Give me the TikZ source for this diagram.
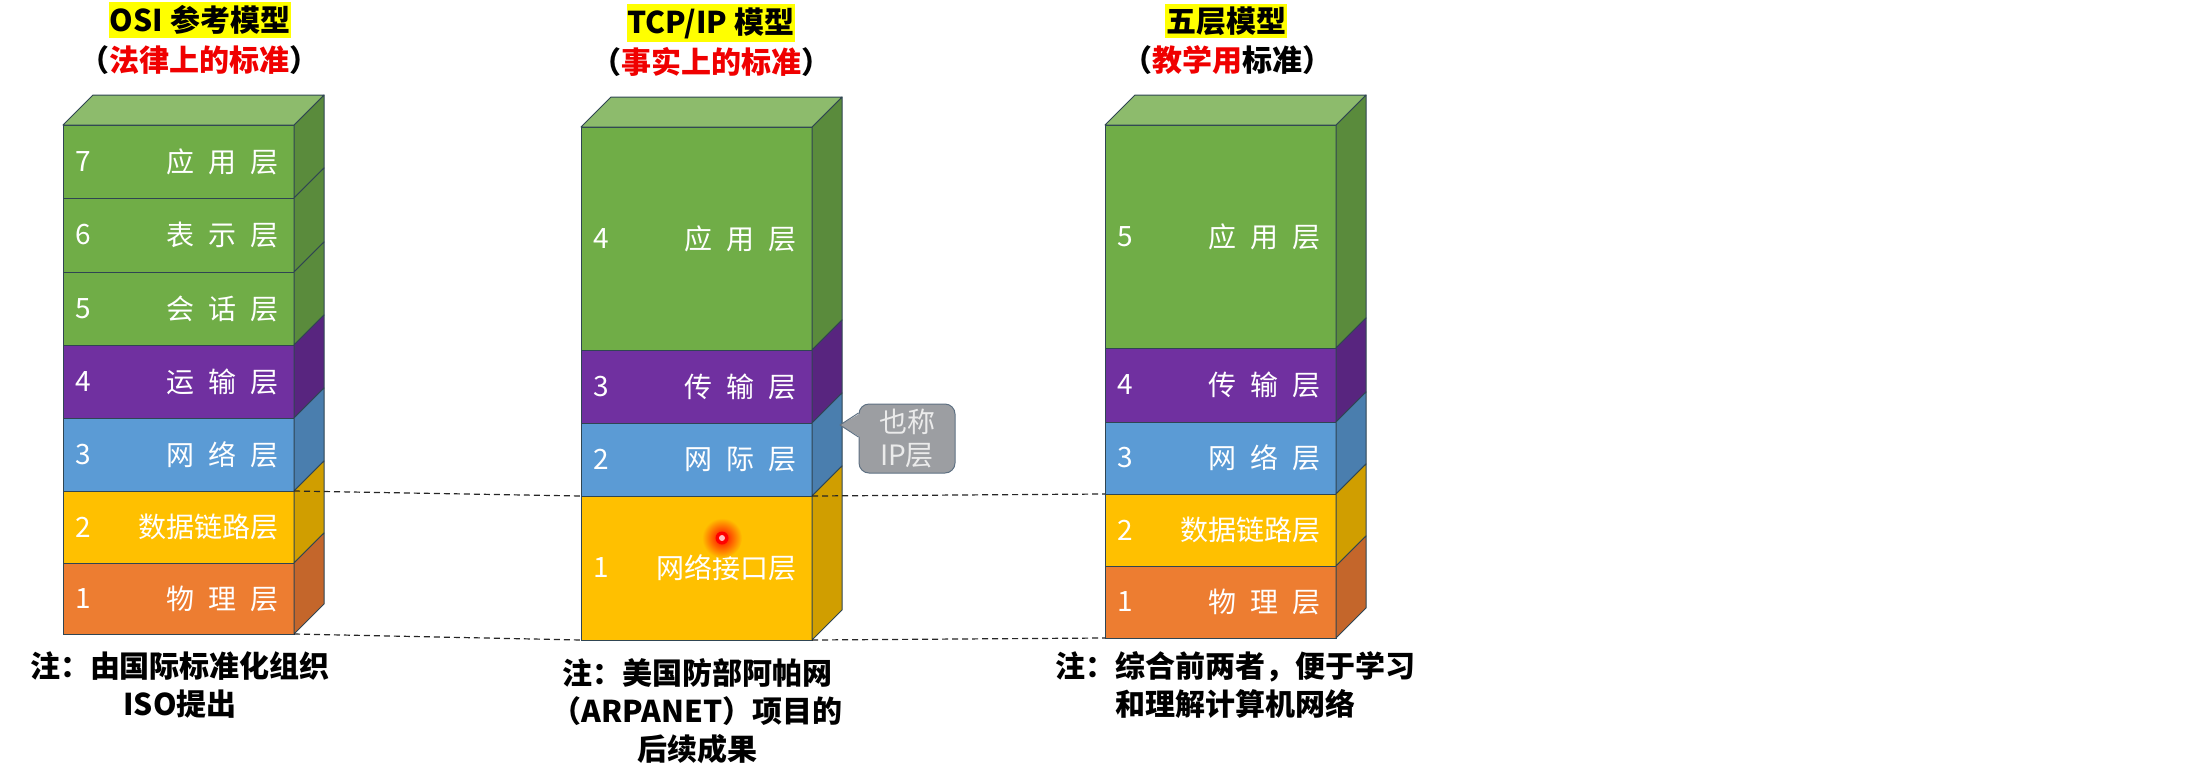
\documentclass[tikz,border=0pt]{standalone}
\usepackage{fontspec}
\newfontfamily\cjk{Noto Sans CJK SC}
\definecolor{cgreen}{HTML}{70AD47}
\definecolor{cgreentop}{HTML}{8DBB6C}
\definecolor{cgreenside}{HTML}{5A8B3C}
\definecolor{cpurple}{HTML}{7030A0}
\definecolor{cpurpleside}{HTML}{58257F}
\definecolor{cblue}{HTML}{5B9BD5}
\definecolor{cblueside}{HTML}{4A7EAE}
\definecolor{cyellow}{HTML}{FFC000}
\definecolor{cyellowside}{HTML}{D09E00}
\definecolor{corange}{HTML}{ED7D31}
\definecolor{corangeside}{HTML}{C4662B}
\definecolor{cedge}{HTML}{2F4552}
\definecolor{ccallout}{HTML}{9C9EA2}
\definecolor{ccalloutborder}{HTML}{5F7183}
\definecolor{hlyellow}{HTML}{FFFF00}
\definecolor{tred}{HTML}{F00000}
\newcommand\lsp{\hspace{0.5em}}
\tikzset{
  layerbox/.style={draw=cedge, line width=1pt, inner sep=0pt, outer sep=0pt, minimum width=231pt},
  sideface/.style={draw=cedge, line width=1pt, line join=round},
  numlbl/.style={text=white, inner sep=0pt, font=\cjk\fontsize{28}{34}\selectfont},
  txtlbl/.style={text=white, inner sep=0pt, anchor=east, font=\cjk\fontsize{28}{34}\selectfont},
  titlebox/.style={fill=hlyellow, inner xsep=1pt, inner ysep=3pt, font=\cjk\bfseries\fontsize{30}{36}\selectfont},
  subtitle/.style={inner sep=0pt, font=\cjk\bfseries\fontsize{30}{36}\selectfont},
  notebox/.style={inner sep=0pt, align=center, font=\cjk\bfseries\fontsize{30}{38}\selectfont},
  dashline/.style={draw=black!85, line width=1.2pt, dash pattern=on 6pt off 4pt},
  calloutbox/.style={fill=ccallout, draw=ccalloutborder, line width=1pt, rounded corners=10pt, minimum width=96pt, minimum height=69pt, inner sep=0pt, align=center, text=black!8, font=\cjk\fontsize{28}{33}\selectfont},
}
% name, x, ytop, ybot, front, side, number, label
\newcommand\mklayer[8]{%
  \node[layerbox, fill=#5, minimum height={#4-#3}, anchor=north west] (#1) at (#2,#3) {};
  \filldraw[sideface, fill=#6] (#1.north east) -- ++(30,-30) -- ++(0,#4-#3) -- (#1.south east) -- cycle;
  \node[numlbl] (#1-n) at ([xshift=20pt]#1.west) {#7};
  \node[txtlbl] (#1-t) at ([xshift=-15pt]#1.east) {#8};
}
\newcommand\mktop[2]{%
  \filldraw[sideface, fill=#2] (#1.north west) -- ++(30,-30) -- ++(231,0) -- (#1.north east) -- cycle;
}
\begin{document}
\begin{tikzpicture}[x=1pt,y=-1pt]
\useasboundingbox (0,0) rectangle (2203,777);
\fill[white] (0,0) rectangle (2203,777);

% ---------- OSI ----------
\mklayer{osi7}{63}{125}{198}{cgreen}{cgreenside}{7}{应\lsp 用\lsp 层}
\mklayer{osi6}{63}{198}{272}{cgreen}{cgreenside}{6}{表\lsp 示\lsp 层}
\mklayer{osi5}{63}{272}{345}{cgreen}{cgreenside}{5}{会\lsp 话\lsp 层}
\mklayer{osi4}{63}{345}{418}{cpurple}{cpurpleside}{4}{运\lsp 输\lsp 层}
\mklayer{osi3}{63}{418}{491}{cblue}{cblueside}{3}{网\lsp 络\lsp 层}
\mklayer{osi2}{63}{491}{563}{cyellow}{cyellowside}{2}{数据链路层}
\mklayer{osi1}{63}{563}{634}{corange}{corangeside}{1}{物\lsp 理\lsp 层}
\mktop{osi7}{cgreentop}

% ---------- TCP/IP ----------
\mklayer{tcp4}{581}{127}{350}{cgreen}{cgreenside}{4}{应\lsp 用\lsp 层}
\mklayer{tcp3}{581}{350}{423}{cpurple}{cpurpleside}{3}{传\lsp 输\lsp 层}
\mklayer{tcp2}{581}{423}{496}{cblue}{cblueside}{2}{网\lsp 际\lsp 层}
\mklayer{tcp1}{581}{496}{640}{cyellow}{cyellowside}{1}{网络接口层}
\mktop{tcp4}{cgreentop}

% ---------- Five layers ----------
\mklayer{five5}{1105}{125}{348}{cgreen}{cgreenside}{5}{应\lsp 用\lsp 层}
\mklayer{five4}{1105}{348}{422}{cpurple}{cpurpleside}{4}{传\lsp 输\lsp 层}
\mklayer{five3}{1105}{422}{494}{cblue}{cblueside}{3}{网\lsp 络\lsp 层}
\mklayer{five2}{1105}{494}{566}{cyellow}{cyellowside}{2}{数据链路层}
\mklayer{five1}{1105}{566}{638}{corange}{corangeside}{1}{物\lsp 理\lsp 层}
\mktop{five5}{cgreentop}

% ---------- dashed correspondences ----------
\draw[dashline] (osi2.north east) -- (tcp1.north west);
\draw[dashline] (tcp1.north east) -- (five2.north west);
\draw[dashline] (osi1.south east) -- (tcp1.south west);
\draw[dashline] (tcp1.south east) -- (five1.south west);

% ---------- laser dot ----------
\coordinate (dot) at (722,538);
\shade[inner color=red, outer color=cyellow] (dot) circle (20);
\fill[red] (dot) circle (6.5);
\fill[white!75!red] (dot) circle (3);

% ---------- callout ----------
\coordinate (tip) at (840,425);
\node[calloutbox] (cb) at (907,438.5) {也称\\IP层};
\fill[ccallout] ([xshift=1.5pt,yshift=25pt]cb.west) -- (tip) -- ([xshift=1.5pt,yshift=1.5pt]cb.west) -- cycle;
\draw[ccalloutborder, line width=1pt, line join=round] ([yshift=25.5pt]cb.west) -- (tip) -- ([yshift=1.5pt]cb.west);

% ---------- titles ----------
\node[titlebox] (t1) at (200,20) {OSI 参考模型};
\node[subtitle] (s1) at (199,60) {（\textcolor{tred}{法律上的标准}）};
\node[titlebox] (t2) at (711,23) {TCP/IP 模型};
\node[subtitle] (s2) at (711,62) {（\textcolor{tred}{事实上的标准}）};
\node[titlebox] (t3) at (1226,21) {五层模型};
\node[subtitle] (s3) at (1227,60) {（\textcolor{tred}{教学用}标准）};

% ---------- notes ----------
\node[notebox] (n1) at (180,685) {注：由国际标准化组织\\ISO提出};
\node[notebox] (n2) at (697,711) {注：美国防部阿帕网\\（ARPANET）项目的\\后续成果};
\node[notebox] (n3) at (1235,685) {注：综合前两者，便于学习\\和理解计算机网络};
\end{tikzpicture}
\end{document}
